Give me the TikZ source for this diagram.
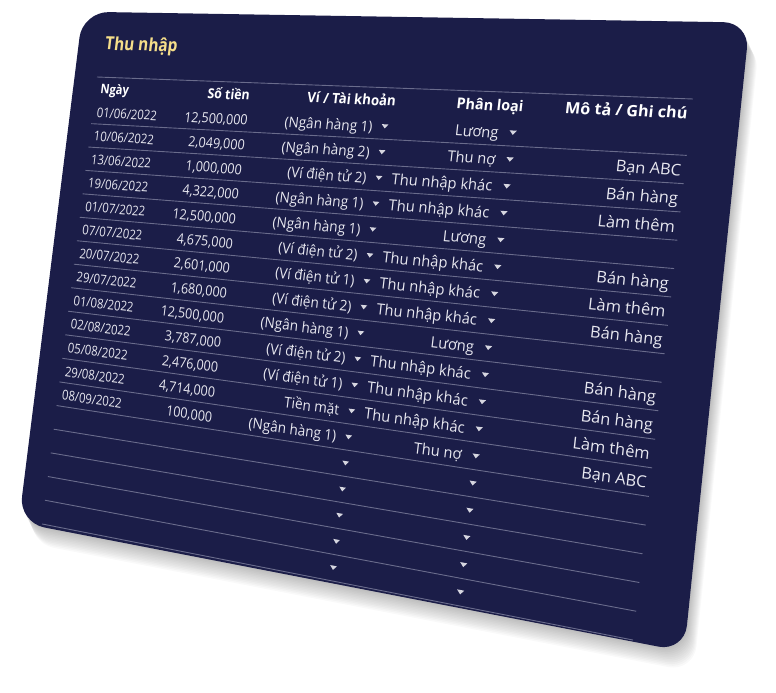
\documentclass[tikz,border=0pt]{standalone}
\usepackage{fontspec}
\setmainfont{Open Sans}
\usepackage{tikz}

\definecolor{cardbg}{HTML}{1B1D48}
\definecolor{gold}{HTML}{F5DE8A}
\definecolor{txtclr}{HTML}{E8E8F0}
\definecolor{lineclr}{HTML}{6A6C8C}
\definecolor{dropclr}{HTML}{D6D6E0}

\tikzset{
  txt/.style={inner sep=0pt, text=txtclr, font=\fontsize{13.6}{15}\selectfont},
  head/.style={txt, text=white, font=\fontsize{13.4}{15}\selectfont\bfseries},
  ttl/.style={inner sep=0pt, text=gold, font=\fontsize{18.5}{22}\selectfont\bfseries},
  rowline/.style={draw=lineclr, line width=0.9pt},
}

\newcommand\hmap[2]{%
  \pgfmathsetmacro\hu{(#1)/596}%
  \pgfmathsetmacro\hv{(#2)/456}%
  \pgfmathsetmacro\hw{1-0.17183*\hu-0.008984*\hv}%
  \pgfmathsetmacro\cx{(476.92*\hu-55.377*\hv+97)/\hw}%
  \pgfmathsetmacro\cy{(4.989*\hu+442.29*\hv+77)/\hw}%
  \pgfmathsetmacro\ma{(476.92+0.17183*\cx)/\hw/596}%
  \pgfmathsetmacro\mb{-(4.989+0.17183*\cy)/\hw/596}%
  \pgfmathsetmacro\mc{-(-55.377+0.008984*\cx)/\hw/456}%
  \pgfmathsetmacro\md{(442.29+0.008984*\cy)/\hw/456}}
\newcommand\tcell[6][txt]{\hmap{#3}{#4}%
  \begin{scope}[cm={\ma,\mb,\mc,\md,(\cx,\cy)}]
    \node[#1,anchor=#5,transform shape] (#2) at (0,0) {#6};
  \end{scope}}
\newcommand\tdrop[3]{\hmap{#2}{#3}%
  \begin{scope}[cm={\ma,\mb,\mc,\md,(\cx,\cy)}]
    \coordinate (#1) at (0,0);
    \fill[dropclr] (-3.3pt,1.9pt) -- (3.3pt,1.9pt) -- (0pt,-2pt) -- cycle;
  \end{scope}}

\begin{document}
\begin{tikzpicture}[x=1pt,y=-1pt]
\useasboundingbox (0,0) rectangle (776,693);
\foreach \s in {1,...,12}
  \fill[black,opacity=0.024,rounded corners=26pt,shift={(0.8*\s,1.7*\s)}]
    (82.7,11.7) -- (749.6,22.6) -- (684.2,651.6) -- (18.8,522.5) -- cycle;
\fill[cardbg,rounded corners=26pt]
  (82.7,11.7) -- (749.6,22.6) -- (684.2,651.6) -- (18.8,522.5) -- cycle;

\foreach \k in {0,2,3,...,19}{
  \hmap{0}{24*\k}\coordinate (l\k) at (\cx,\cy);
  \hmap{596}{24*\k}\coordinate (r\k) at (\cx,\cy);
  \draw[rowline] (l\k) -- (r\k);
}

\tcell[ttl]{title}{5}{-28}{base west}{Thu nhập}
\tcell[head]{h1}{6}{17}{base west}{Ngày}
\tcell[head]{h2}{177}{17}{base east}{Số tiền}
\tcell[head]{h3}{284}{17}{base}{Ví / Tài khoản}
\tcell[head]{h4}{419}{17}{base}{Phân loại}
\tcell[head]{h5}{593}{17}{base east}{Mô tả / Ghi chú}

\foreach \dt [count=\r] in {01/06/2022,10/06/2022,13/06/2022,19/06/2022,01/07/2022,
    07/07/2022,20/07/2022,29/07/2022,01/08/2022,02/08/2022,05/08/2022,29/08/2022,08/09/2022}
  {\tcell{d\r}{5}{24*\r+17.5}{base west}{\dt}}
\foreach \am [count=\r] in {{12,500,000},{2,049,000},{1,000,000},{4,322,000},{12,500,000},
    {4,675,000},{2,601,000},{1,680,000},{12,500,000},{3,787,000},{2,476,000},{4,714,000},{100,000}}
  {\tcell{a\r}{178}{24*\r+17.5}{base east}{\am}}
\foreach \wl [count=\r] in {(Ngân hàng 1),(Ngân hàng 2),(Ví điện tử 2),(Ngân hàng 1),(Ngân hàng 1),
    (Ví điện tử 2),(Ví điện tử 1),(Ví điện tử 2),(Ngân hàng 1),(Ví điện tử 2),(Ví điện tử 1),
    Tiền mặt,(Ngân hàng 1)}
  {\tcell{w\r}{308.5}{24*\r+17.5}{base east}{\wl}}
\foreach \ct [count=\r] in {Lương,Thu nợ,Thu nhập khác,Thu nhập khác,Lương,Thu nhập khác,
    Thu nhập khác,Thu nhập khác,Lương,Thu nhập khác,Thu nhập khác,Thu nhập khác,Thu nợ}
  {\tcell{c\r}{430}{24*\r+17.5}{base east}{\ct}}
\foreach \r/\ds in {2/Bạn ABC,3/Bán hàng,4/Làm thêm,6/Bán hàng,7/Làm thêm,8/Bán hàng,
    10/Bán hàng,11/Bán hàng,12/Làm thêm,13/Bạn ABC}
  {\tcell{m\r}{593}{24*\r+17.5}{base east}{\ds}}

\foreach \r in {1,...,18}
  {\tdrop{dw\r}{320.5}{24*\r+12}\tdrop{dc\r}{443}{24*\r+12}}
\end{tikzpicture}
\end{document}
